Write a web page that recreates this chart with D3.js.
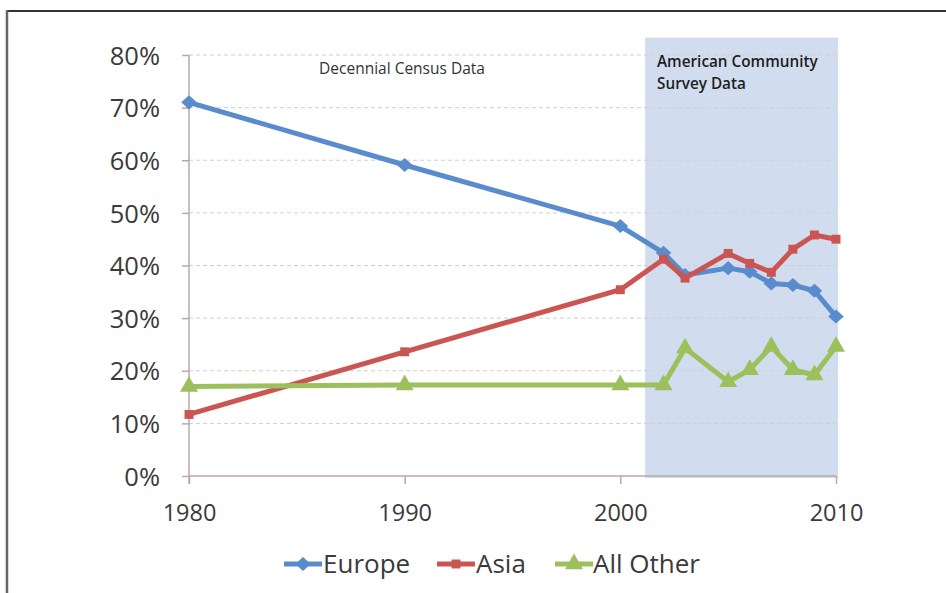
<!DOCTYPE html>
<html>
<head>
<meta charset="utf-8">
<script src="https://cdn.jsdelivr.net/npm/d3@7"></script>
<style>
  html, body { margin: 0; padding: 0; background: #fff; }
  svg { display: block; }
</style>
</head>
<body>
<svg id="chart" width="946" height="593"></svg>
<script>
// ---- data ----
const years = [1980, 1990, 2000, 2002, 2003, 2005, 2006, 2007, 2008, 2009, 2010];
const europe   = [71.0, 59.1, 47.5, 42.4, 38.2, 39.5, 38.8, 36.6, 36.3, 35.2, 30.3];
const asia     = [11.7, 23.6, 35.4, 41.2, 37.6, 42.3, 40.4, 38.7, 43.1, 45.8, 45.0];
const allOther = [17.0, 17.3, 17.3, 17.3, 24.3, 17.9, 20.2, 24.6, 20.2, 19.2, 24.6];
const seriesNames = ["Europe", "Asia", "All Other"];
const yTicks = [0, 10, 20, 30, 40, 50, 60, 70, 80];
const xTicks = [1980, 1990, 2000, 2010];
const acsSpan = [2001.15, 2010.1];
const censusLabel = "Decennial Census Data";
const acsLabel = ["American Community", "Survey Data"];

// ---- layout ----
const svg = d3.select("#chart");
const x = d3.scaleLinear().domain([1980, 2010]).range([189, 836]);
const y = d3.scaleLinear().domain([0, 80]).range([476, 55]);

const colors = { "Europe": "#5a8ccd", "Asia": "#cb5552", "All Other": "#9cc05c" };
const axisColor = "#bba9a3";

// frame
svg.append("line").attr("x1", 6).attr("x2", 946).attr("y1", 11).attr("y2", 11)
  .attr("stroke", "#333").attr("stroke-width", 2);
svg.append("line").attr("x1", 7).attr("x2", 7).attr("y1", 10).attr("y2", 593)
  .attr("stroke", "#666").attr("stroke-width", 2.5);

// ACS shaded region
svg.append("rect")
  .attr("x", x(acsSpan[0])).attr("y", y(83.3))
  .attr("width", x(acsSpan[1]) - x(acsSpan[0]))
  .attr("height", y(-0.4) - y(83.3))
  .attr("fill", "#d1ddee");

// gridlines
svg.append("g").selectAll("line").data(yTicks.filter(d => d > 0)).join("line")
  .attr("x1", x(1980)).attr("x2", x(2010))
  .attr("y1", d => y(d)).attr("y2", d => y(d))
  .attr("stroke", "#cfcfcf").attr("stroke-width", 1)
  .attr("stroke-dasharray", "4,3");

// y axis
const yAxis = d3.axisLeft(y).tickValues(yTicks).tickSize(7).tickFormat(d => d + "%");
const gy = svg.append("g").attr("transform", `translate(${x(1980)},0)`).call(yAxis);
gy.select(".domain").attr("stroke", axisColor).attr("stroke-width", 1.5)
  .attr("d", `M0,${y(80)}V${y(0) + 8}`);
gy.selectAll(".tick line").attr("stroke", axisColor).attr("stroke-width", 1.5);
gy.selectAll(".tick text")
  .attr("x", -29)
  .attr("dy", "0.36em")
  .attr("font-family", "'Open Sans', sans-serif")
  .attr("font-size", 25.5)
  .attr("fill", "#3a3a3a");

// x axis
const xAxis = d3.axisBottom(x).tickValues(xTicks).tickSize(8).tickFormat(d3.format("d"));
const gx = svg.append("g").attr("transform", `translate(0,${y(0)})`).call(xAxis);
gx.select(".domain").attr("stroke", axisColor).attr("stroke-width", 1.5)
  .attr("d", `M${x(1980)},0H${x(2010)}`);
gx.selectAll(".tick line").attr("stroke", axisColor).attr("stroke-width", 1.5);
gx.selectAll(".tick text")
  .attr("y", 28)
  .attr("dy", "0.71em")
  .attr("font-family", "'Open Sans', sans-serif")
  .attr("font-size", 23.5)
  .attr("fill", "#3a3a3a");

// annotations
svg.append("text").attr("x", 402).attr("y", 74)
  .attr("text-anchor", "middle")
  .attr("font-family", "'Open Sans', sans-serif").attr("font-size", 15.5)
  .attr("fill", "#333").text(censusLabel);
svg.append("g").selectAll("text").data(acsLabel).join("text")
  .attr("x", 657).attr("y", (d, i) => 67 + i * 22)
  .attr("font-family", "'Open Sans', sans-serif").attr("font-size", 15.3)
  .attr("font-weight", 600)
  .attr("fill", "#1e1e1e").text(d => d);

// series
const data = [
  { name: "Europe", values: europe },
  { name: "Asia", values: asia },
  { name: "All Other", values: allOther }
];
const line = d3.line().x((d, i) => x(years[i])).y(d => y(d));

const wideDiamond = {
  draw(ctx, size) {
    const r = Math.sqrt(size / 2);
    ctx.moveTo(0, -r * 0.95); ctx.lineTo(r * 1.05, 0);
    ctx.lineTo(0, r * 0.95); ctx.lineTo(-r * 1.05, 0); ctx.closePath();
  }
};
const symbolFor = name => name === "Europe" ? wideDiamond
  : name === "Asia" ? d3.symbolSquare : d3.symbolTriangle;
const sizeFor = name => name === "Europe" ? 110 : name === "Asia" ? 80 : 140;

data.forEach(s => {
  const g = svg.append("g");
  g.append("path").attr("d", line(s.values))
    .attr("fill", "none").attr("stroke", colors[s.name])
    .attr("stroke-width", 5).attr("stroke-linejoin", "round");
  g.selectAll("path.m").data(s.values).join("path").attr("class", "m")
    .attr("transform", (d, i) => `translate(${x(years[i])},${y(d)})`)
    .attr("d", d3.symbol().type(symbolFor(s.name)).size(sizeFor(s.name)))
    .attr("fill", colors[s.name]);
});

// legend
const legendItems = [
  { name: "Europe", lx: 284, tx: 323 },
  { name: "Asia", lx: 437, tx: 476 },
  { name: "All Other", lx: 555, tx: 593 }
];
const leg = svg.append("g");
legendItems.forEach(it => {
  const cy = 564;
  leg.append("line").attr("x1", it.lx).attr("x2", it.lx + 38)
    .attr("y1", cy).attr("y2", cy)
    .attr("stroke", colors[it.name]).attr("stroke-width", 5);
  leg.append("path").attr("transform", `translate(${it.lx + 19},${cy})`)
    .attr("d", d3.symbol().type(symbolFor(it.name)).size(sizeFor(it.name)))
    .attr("fill", colors[it.name]);
  leg.append("text").attr("x", it.tx).attr("y", cy).attr("dy", "0.36em")
    .attr("font-family", "'Open Sans', sans-serif").attr("font-size", 26)
    .attr("fill", "#3a3a3a").text(it.name);
});
</script>
</body>
</html>
